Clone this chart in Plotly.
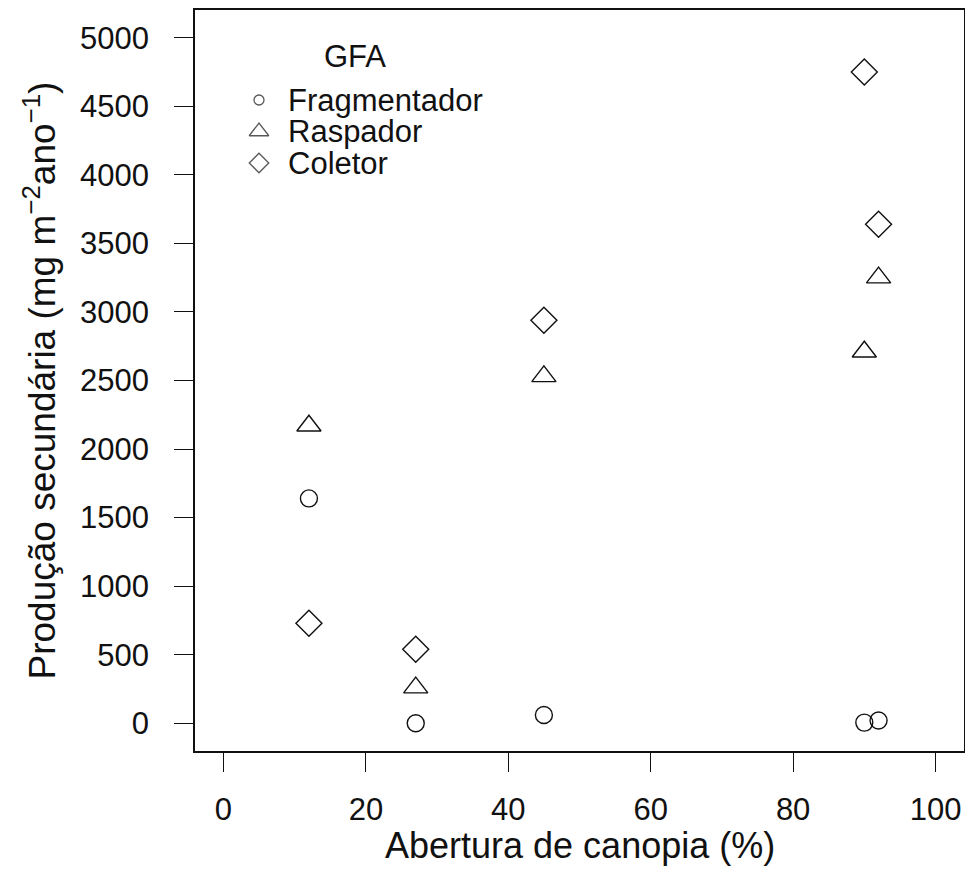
import plotly.graph_objects as go

# ---- data ----
canopy = [12, 27, 45, 90, 92]
fragmentador = [1640, 0, 60, 5, 20]
raspador = [2170, 260, 2530, 2710, 3250]
coletor = [730, 540, 2940, 4750, 3640]

series_names = ["Fragmentador", "Raspador", "Coletor"]
legend_title = "GFA"
x_ticks = [0, 20, 40, 60, 80, 100]
y_ticks = [0, 500, 1000, 1500, 2000, 2500, 3000, 3500, 4000, 4500, 5000]
x_title = "Abertura de canopia (%)"
y_title = "Produção secundária (mg m<sup>−2</sup>ano<sup>−1</sup>)"

# ---- styles ----
FONT = "Liberation Sans, Arial, sans-serif"
FS = 31
FS_TITLE = 36
FS_YTITLE = 37
INK = "#111111"
symbols = ["circle-open", "triangle-up-open", "diamond-open"]
plot_sizes = [17, 21, 20]
legend_sizes = [10, 17, 15]

W, H = 965, 870
ML, MR, MT, MB = 195, 1, 10, 119
PW, PH = W - ML - MR, H - MT - MB

fig = go.Figure()
for name, vals, sym, sz in zip(series_names, [fragmentador, raspador, coletor], symbols, plot_sizes):
    fig.add_trace(go.Scatter(
        x=canopy, y=vals, mode="markers", name=name, showlegend=False,
        marker=dict(symbol=sym, size=sz, color=INK, line=dict(color=INK, width=1.4)),
    ))

# ---- legend drawn inside the plot on an auxiliary pixel-like axis ----
row_gap = 31.5           # px between legend rows
sym_x_px = 64            # symbol centre from plot left
first_row_px = 90        # first row centre from plot top
idx = list(range(len(series_names)))
fig.add_trace(go.Scatter(
    x=[0] * len(idx), y=idx, mode="markers", showlegend=False, hoverinfo="skip",
    xaxis="x2", yaxis="y2",
    marker=dict(symbol=symbols, size=legend_sizes, color=INK, line=dict(color=INK, width=1.3)),
))
annotations = []
for i, name in zip(idx, series_names):
    annotations.append(dict(
        x=27, y=i, xref="x2", yref="y2", text=name, showarrow=False,
        xanchor="left", yanchor="middle", font=dict(family=FONT, size=FS, color=INK),
    ))
annotations.append(dict(
    x=96, y=-1.37, xref="x2", yref="y2", text=legend_title, showarrow=False,
    xanchor="center", yanchor="middle", font=dict(family=FONT, size=FS, color=INK),
))
# axis titles
annotations.append(dict(
    x=0.5, y=-(845 - (MT + PH)) / PH, xref="paper", yref="paper", text=x_title,
    showarrow=False, xanchor="center", yanchor="middle",
    font=dict(family=FONT, size=FS_TITLE, color=INK),
))
annotations.append(dict(
    x=(40 - ML) / PW, y=0.5, xref="paper", yref="paper", text=y_title,
    showarrow=False, xanchor="center", yanchor="middle", textangle=-90,
    font=dict(family=FONT, size=FS_YTITLE, color=INK),
))

axis_common = dict(
    showgrid=False, zeroline=False, showline=True, mirror=True,
    linecolor=INK, linewidth=1.5, ticks="outside", ticklen=19, tickwidth=1.4,
    tickcolor=INK, tickfont=dict(family=FONT, size=FS, color=INK),
)

fig.update_layout(
    width=W, height=H,
    margin=dict(l=ML, r=MR, t=MT, b=MB, autoexpand=False),
    paper_bgcolor="white", plot_bgcolor="white",
    xaxis=dict(range=[-4, 104], tickvals=x_ticks, ticktext=[str(v) for v in x_ticks],
               ticklabelstandoff=11, **axis_common),
    yaxis=dict(range=[-202, 5202], tickvals=y_ticks, ticktext=[str(v) for v in y_ticks],
               ticklabelstandoff=19, **axis_common),
    xaxis2=dict(overlaying="x", range=[-sym_x_px, PW - sym_x_px], visible=False),
    yaxis2=dict(overlaying="y", range=[(PH - first_row_px) / row_gap, -first_row_px / row_gap], visible=False),
    annotations=annotations,
    showlegend=False,
)

fig.write_html("out.html")
